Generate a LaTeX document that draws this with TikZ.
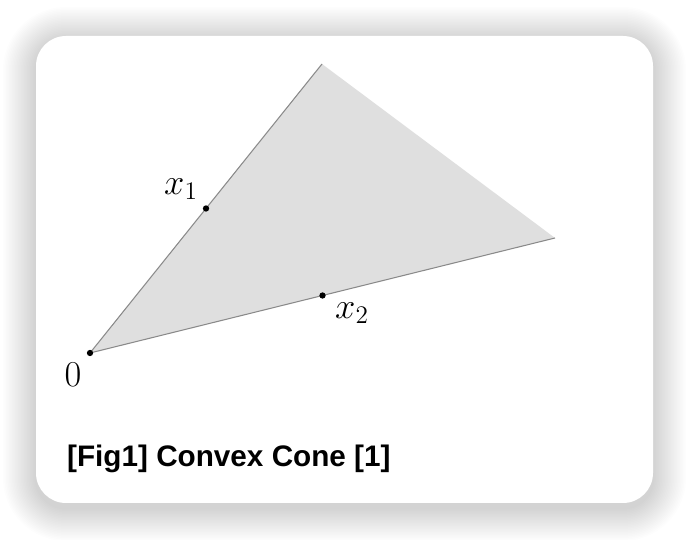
\documentclass[tikz,border=0pt]{standalone}
\usepackage{fontspec}
\setsansfont{Liberation Sans}
\usetikzlibrary{calc}
\definecolor{conefill}{HTML}{DFDFDF}
\definecolor{coneedge}{HTML}{8A8A8A}

\begin{document}
\begin{tikzpicture}[x=0.02cm,y=-0.02cm,
    dot/.style={fill=black,circle,inner sep=0pt,minimum size=3.6pt},
    lbl/.style={font=\fontsize{21}{24}\selectfont}]
   \useasboundingbox (0,0) rectangle (690,540);

   % soft shadow under the card
   \foreach \s in {1,...,22} {
     \fill[black,opacity=0.008,rounded corners=0.6cm+\s*0.03cm]
       (36-1.5*\s,40-1.5*\s) rectangle (653+1.5*\s,508+1.5*\s);
   }
   \fill[white,rounded corners=0.6cm] (36,36) rectangle (653,503);

   \coordinate (origin) at (90,353);
   \coordinate (apex) at (322,64);
   \coordinate (tip) at (555,238);

   \fill[conefill] (origin) -- (apex) -- (tip) -- cycle;
   \draw[coneedge,line width=0.6pt] (apex) -- (origin) -- (tip);

   \node[dot] (zero) at (origin) {};
   \node[dot] (xone) at ($(origin)!0.5!(apex)$) {};
   \node[dot] (xtwo) at ($(origin)!0.5!(tip)$) {};

   \node[lbl] (zerolbl) at (73,375) {$0$};
   \node[lbl] (xonelbl) at (181,189) {$x_1$};
   \node[lbl] (xtwolbl) at (352,313) {$x_2$};

   \node[anchor=base west,font=\sffamily\bfseries\fontsize{16.9}{19}\selectfont]
     (caption) at (61,467) {[Fig1] Convex Cone [1]};
\end{tikzpicture}
\end{document}
